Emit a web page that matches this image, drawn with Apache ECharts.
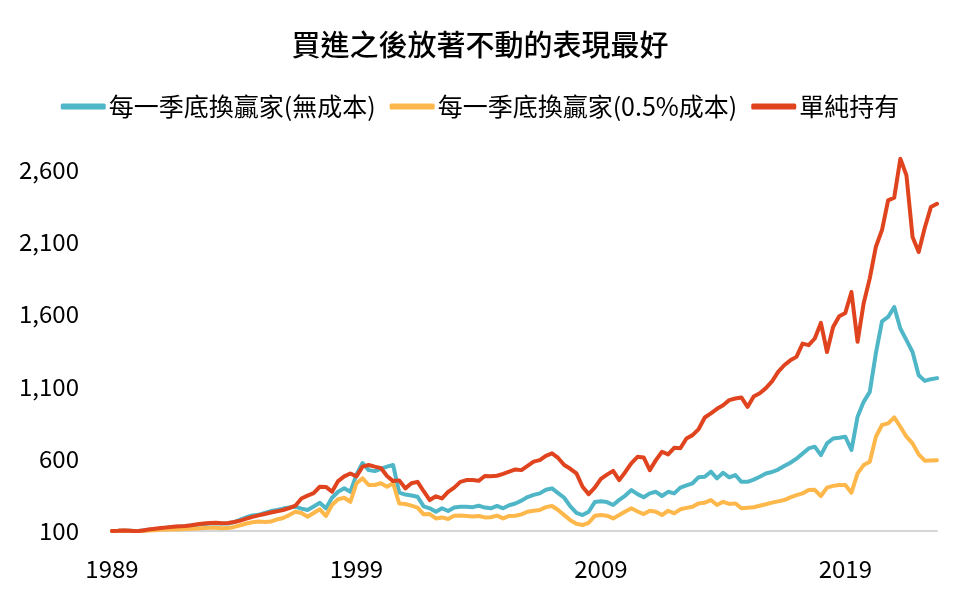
<!DOCTYPE html>
<html>
<head>
<meta charset="utf-8">
<script src="https://cdn.jsdelivr.net/npm/echarts@6/dist/echarts.min.js"></script>
<style>
html,body{margin:0;padding:0;background:#fff;}
#chart{width:960px;height:596px;}
</style>
</head>
<body>
<div id="chart"></div>
<script>
// Quarterly, starting 1989 Q1
const startYear = 1989;
const quarterCount = 136;
const categories = [];
for (let i = 0; i < quarterCount; i++) {
  categories.push((startYear + Math.floor(i / 4)) + 'Q' + (i % 4 + 1));
}
const seriesNames = ['每一季底換贏家(無成本)', '每一季底換贏家(0.5%成本)', '單純持有'];

const winnerNoCost = [
  100,101,104,102,98,103,108,112,117,122,127,130,133,138,143,149,152,154,151,152,
  162,178,195,208,212,225,238,245,255,262,268,255,245,270,295,257,330,371,395,371,
  490,570,521,514,530,545,556,365,352,345,337,270,257,233,257,238,262,268,268,265,
  275,262,257,273,257,278,290,310,335,350,360,385,395,362,330,270,225,210,233,300,
  305,300,280,315,345,383,355,333,360,371,342,371,360,400,415,430,472,475,510,464,
  503,471,487,440,440,455,475,498,508,525,549,572,600,635,671,683,625,706,740,745,
  752,660,890,993,1062,1330,1550,1580,1649,1500,1420,1338,1177,1138,1150,1157
];
const winnerCost = [
  100,101,103,100,96,100,104,106,108,110,111,112,114,116,118,120,122,122,119,120,
  128,140,152,160,165,163,165,180,190,210,233,225,199,225,250,204,280,320,330,302,
  430,464,418,418,430,406,430,290,287,275,262,215,217,187,194,183,205,207,204,200,
  204,194,195,206,187,204,206,215,233,240,245,265,273,245,210,175,150,141,157,205,
  210,206,187,210,235,257,235,217,240,233,210,240,222,250,260,268,291,296,314,280,
  302,287,291,257,260,264,275,285,296,305,314,333,348,360,383,385,342,400,412,418,
  418,365,498,556,579,752,833,844,886,821,752,706,630,586,588,590
];
const buyHold = [
  100,101,104,102,98,103,110,115,120,125,130,132,135,140,146,152,155,157,154,155,
  162,172,185,198,208,218,228,236,245,258,275,325,345,362,406,405,372,445,478,498,
  478,545,556,545,535,480,445,450,395,430,440,375,314,340,325,371,400,440,452,452,
  447,480,478,482,495,510,526,521,550,580,590,620,637,605,556,530,498,406,355,400,
  460,490,516,452,508,570,613,609,521,590,648,630,675,672,740,763,805,885,913,945,
  970,1005,1016,1023,958,1030,1052,1088,1134,1200,1246,1280,1304,1396,1385,1431,1539,1338,1511,1585,
  1608,1753,1408,1675,1847,2066,2181,2386,2405,2674,2559,2133,2029,2197,2340,2363
];
const yTicks = {min: 100, max: 2700, interval: 500};
const colors = ['#4fb6c8', '#fdb74a', '#e0441f'];

const chart = echarts.init(document.getElementById('chart'), null, {renderer: 'canvas'});
const font = '"Noto Sans CJK TC", "Noto Sans", sans-serif';
const values = [winnerNoCost, winnerCost, buyHold];
chart.setOption({
  animation: false,
  backgroundColor: '#fff',
  color: colors,
  textStyle: {fontFamily: font},
  title: {
    text: '買進之後放著不動的表現最好',
    left: 'center',
    top: 25,
    textStyle: {fontSize: 29, fontWeight: 500, color: '#000', fontFamily: font}
  },
  legend: {
    top: 89,
    left: 'center',
    icon: 'roundRect',
    itemWidth: 45,
    itemHeight: 6,
    itemGap: 14,
    textStyle: {fontSize: 25, color: '#000', fontFamily: font, padding: [0, 0, 0, -2]},
    data: seriesNames
  },
  grid: {left: 112, right: 23, top: 155, bottom: 65, containLabel: false},
  xAxis: {
    type: 'category',
    data: categories,
    boundaryGap: false,
    axisLine: {lineStyle: {color: '#d6d6d6', width: 2}},
    axisTick: {show: false},
    axisLabel: {
      interval: 39,
      margin: 26,
      fontSize: 24,
      color: '#000',
      fontFamily: font,
      formatter: v => v.slice(0, 4)
    },
    splitLine: {show: false}
  },
  yAxis: {
    type: 'value',
    min: yTicks.min,
    max: yTicks.max,
    interval: yTicks.interval,
    axisLine: {show: false},
    axisTick: {show: false},
    splitLine: {show: false},
    axisLabel: {
      showMaxLabel: false,
      margin: 33,
      fontSize: 24,
      color: '#000',
      fontFamily: font
    }
  },
  series: seriesNames.map((name, k) => ({
    name: name,
    type: 'line',
    data: values[k],
    showSymbol: false,
    symbol: 'none',
    lineStyle: {width: 4, color: colors[k], cap: 'round', join: 'round'},
    itemStyle: {color: colors[k]}
  }))
});
</script>
</body>
</html>
